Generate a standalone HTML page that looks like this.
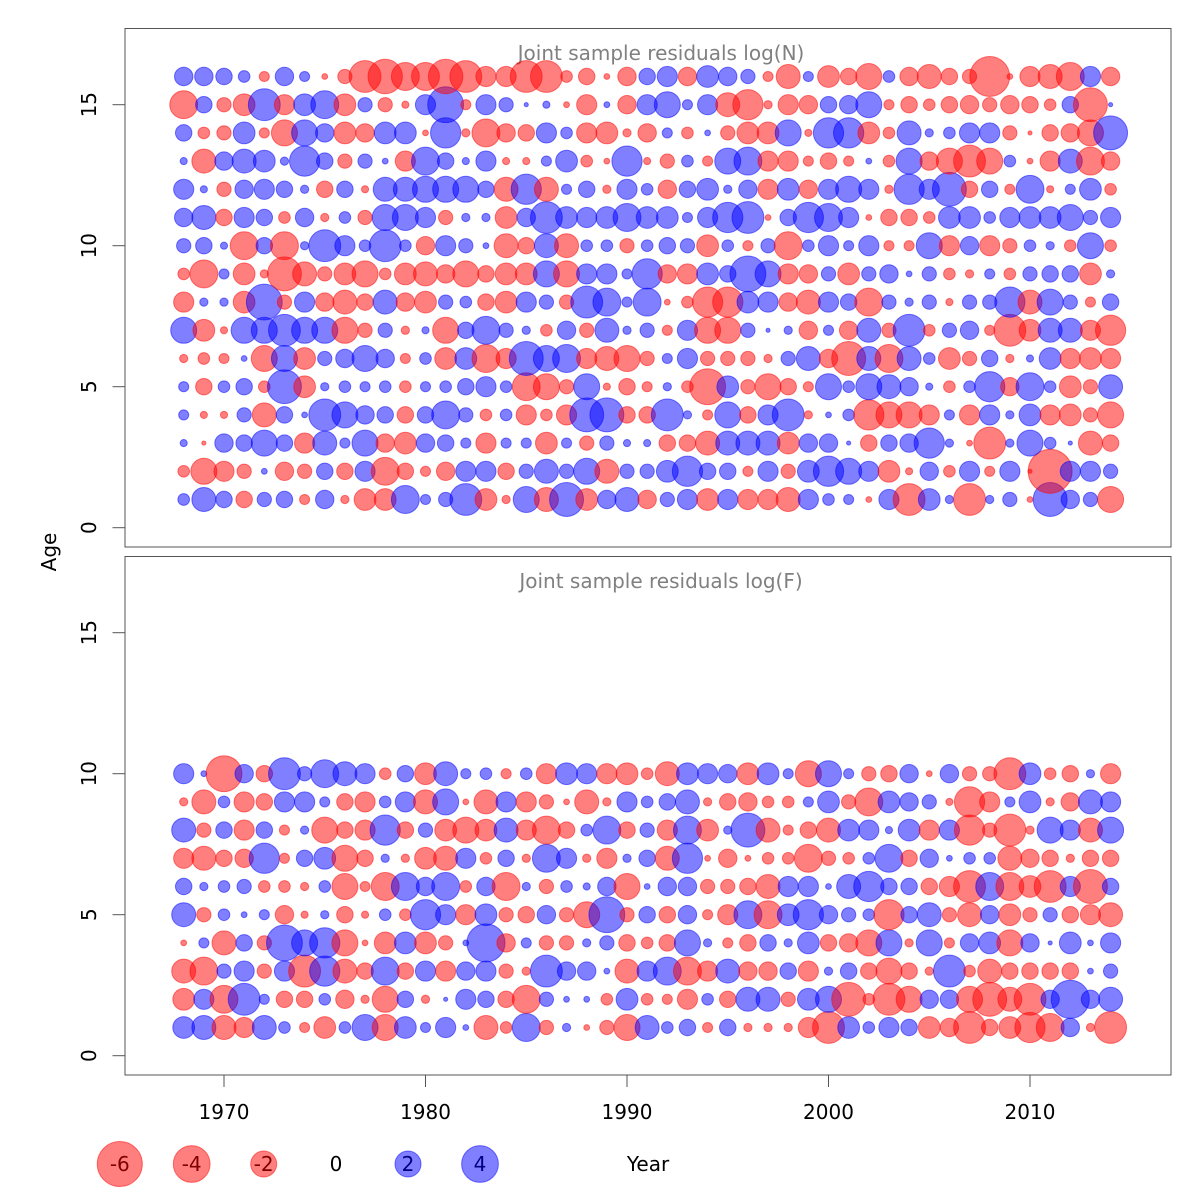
<!DOCTYPE html>
<html><head><meta charset="utf-8"><title>Joint sample residuals</title>
<style>
html,body{margin:0;padding:0;background:#fff;}
svg{display:block;font-family:"DejaVu Sans","Liberation Sans",sans-serif;}
</style></head>
<body>
<svg id="chart" width="1200" height="1200" viewBox="0 0 1200 1200" xmlns="http://www.w3.org/2000/svg">
  <rect x="125" y="28.5" width="1046" height="518.5" fill="none" stroke="#555" stroke-width="1"/>
  <rect x="125" y="556.5" width="1046" height="518.5" fill="none" stroke="#555" stroke-width="1"/>
  <text x="661" y="60" font-size="20" fill="#808080" text-anchor="middle">Joint sample residuals log(N)</text>
  <text x="661" y="588" font-size="20" fill="#808080" text-anchor="middle">Joint sample residuals log(F)</text>
  <text x="0" y="0" font-size="20" fill="#000" text-anchor="middle" transform="translate(56,552) rotate(-90)">Age</text>
  <text x="648" y="1171" font-size="20" fill="#000" text-anchor="middle">Year</text>
  <g id="axes"></g>
  <g id="bubblesN"></g>
  <g id="bubblesF"></g>
  <g id="legend"></g>
</svg>
<script>
const years = [];
for (let y = 1968; y <= 2014; y++) years.push(y);
const xTicks = [1970, 1980, 1990, 2000, 2010];
const yTicks = [0, 5, 10, 15];
const legendValues = [-6, -4, -2, 0, 2, 4];

const logN_age1 = [0.4,1.7,0.8,-0.8,0.6,0.8,-0.3,1,-0.2,-1.4,-1.4,2.3,0.3,0.6,3,-1.4,-0.2,2,-1.7,3.4,-1.4,1,1.7,-1, 0.6,1.2,-1.4,1.2,-1.2,-1.2,-1.7,1.2,0.4,0.3,-0.1,1.2,-3,1.4,0.2,-3,0.2,0.6,-0.1,3.4,1,0.6,-2];
const logN_age2 = [-0.4,-2,-1.2,-0.6,0.1,-1,-0.6,0.8,-0.8,1.2,-2.3,-0.8,-0.3,-1,1.2,1.2,-0.8,0.6,1.7,0.6,2,-1.7,0.6,0.6, 1.4,2.7,0.8,0.8,-0.3,1.2,-0.6,1.4,2.7,2,1.2,-1.4,-0.15,1,-0.4,1.2,-0.3,1.2,-0.05,-5.7,1.2,1.2,0.6];
const logN_age3 = [0.15,-0.05,1,0.8,2,0.8,-1.2,1.7,0.3,2,-1,-1.4,1,0.8,0.3,-1.2,0.3,0.3,-1.4,0.3,-0.6,0.6,0.15,0.15, -0.8,-0.8,-1.7,1.7,1.7,1.7,-1.4,1,1,0.05,-0.8,0.8,1,2.7,0.2,-0.1,-3,0.2,2,0.4,0.05,-1.7,-0.8];
const logN_age4 = [0.3,-0.15,-0.15,0.6,-1.7,0.8,0.1,3,2,1,0.8,-0.8,0.8,2.3,0.6,-0.4,0.4,-1.2,-0.4,-1.2,3.4,3.4,-0.8,-0.8, 3,0.2,-0.3,2,-0.8,1.2,3,-0.2,0.1,0.4,-2.7,-2,-2,-1.2,0.3,-1.2,1.2,0.2,1.4,-1.2,-1.4,-0.6,-2];
const logN_age5 = [0.3,-0.8,0.4,0.8,-0.4,3.4,-1.4,0.2,0.4,0.3,0.4,-0.4,0.3,0.4,0.8,1.2,0.4,-2.3,-2,-0.6,2,-0.15,-0.8,-0.3, 0.2,-0.4,-3.8,1.4,-0.6,-2,-0.8,-0.3,2,0.4,2,1.7,1,0.15,-0.4,0.4,2.7,-1,2.3,0.4,-1.4,-0.6,1.7];
const logN_age6 = [-0.2,-0.4,-0.3,0.1,-2,2,-1.4,0.6,1,2,1,-0.3,0.4,-1.4,1.4,-2.3,-1.2,3.4,2,2.3,-1.2,-1.7,-2,-0.6, 0.3,1.2,-0.6,-0.6,-0.6,-0.2,0.6,1.7,-1,-3.4,1.7,-2.3,1.7,0.4,-1.4,-0.6,0.8,-0.2,0.15,1.4,-1.2,-1.4,-1.2];
const logN_age7 = [2,-1.4,-0.15,2,2,3,2,2,-2,-0.6,0.6,-0.2,0.15,-2,0.8,2.3,0.6,0.2,-0.4,1,-0.6,1.7,0.2,0.6, -0.3,1.2,-2,-2,0.6,0.05,0.2,-1,0.3,-1,1.7,-0.6,3,-0.4,0.6,1,-0.3,-3,-1.4,1.7,1.7,-1.2,-2.7];
const logN_age8 = [-1.2,0.2,0.2,-1.4,3.8,-0.6,1.2,-1,-1.7,-0.8,1.7,-1,-1.4,0.6,0.4,-0.8,-1.4,1.2,0.6,-0.6,3,2.3,0.3,2.3, -0.1,-0.4,-2.7,-2.7,1.4,1.2,-1,-1.7,1.2,0.8,-2.3,0.6,0.2,0.6,-0.15,0.6,0.6,2.7,-1.7,2,0.6,-0.3,0.8];
const logN_age9 = [-0.4,-2.3,0.3,-1.4,-0.2,-3.4,-1.7,-0.6,-1.4,-2,-0.4,-1.4,-1.7,-1,-2,-0.8,-1.4,-1.4,2,-2,1.2,1.2,0.3,2.7, -1,-1.2,1.4,0.8,3.8,2,-1.2,-1,0.6,-1.4,0.6,1,0.1,0.6,-0.4,-0.2,0.3,-0.4,0.6,0.8,0.8,-1.4,0.2];
const logN_age10 = [0.6,0.8,0.15,-2.3,0.8,-2.3,0.2,3,1.2,0.4,3,0.4,-1,1.2,0.6,0.1,-1.7,-0.8,1.7,-1.7,0.4,0.4,-0.6,0.4, 0.8,0.6,-1.4,0.4,-0.3,0.6,-2.3,0.4,1.2,0.3,1.2,-0.3,-0.3,2,-1.2,1,-1.2,-0.6,0.4,0.2,-0.4,2,-0.4];
const logN_age11 = [1,1.7,-0.8,1.2,0.8,-0.4,1,-0.2,0.4,-0.6,2,2,1.2,-0.6,0.2,0.2,-1.4,1,3,1.4,1.2,1.4,2.3,1.4, 1.4,0.3,1.2,2.7,3,-0.1,0.8,2.7,2.3,1.2,-0.1,-0.8,-0.8,-0.4,1.4,1.4,0.4,1.2,1.4,1.4,2,0.6,1.2];
const logN_age12 = [1.2,0.15,-0.6,1,1.2,0.8,0.2,-0.8,0.8,-0.15,1.7,1.7,2,2,2,0.8,-1.7,2.7,-1.7,0.3,0.8,-0.2,1.2,0.4, -1,0.8,1.4,0.2,1,-1.2,1.4,-1,1.2,2,1.2,-0.2,2.7,1.2,3.4,-0.8,0.8,-0.3,2.3,-0.15,0.3,1.4,-0.4];
const logN_age13 = [0.15,-1.7,1,1.7,1.4,0.2,2.7,0.8,-0.6,0.6,0.1,-1.2,2.3,0.8,0.15,1.2,-0.15,-0.15,0.3,1.4,-0.4,-0.1,2.7,-0.15, -0.6,0.4,-0.3,2,2.3,-1.2,-1.2,-0.3,-0.8,-0.3,0.1,-0.4,2,-1,-2,-3,-2,0.4,-0.1,-1.2,1.7,-2.3,-1];
const logN_age14 = [0.8,-0.4,-0.6,1.4,-0.3,-2,2,1,-1.4,-1,1.4,1.4,-0.1,2.7,-0.2,-2.3,-1,-0.8,1.2,0.4,-1.2,-1.4,-0.2,-1, 0.3,-0.4,0.1,-0.6,-1.4,-1.4,2,-0.15,2.7,2.7,-1.4,-0.4,1.7,0.2,0.4,1.2,1.2,-0.6,-0.05,-0.8,-1,-2,3.4];
const logN_age15 = [-2.3,0.8,-0.6,-1.4,3,-1.2,1.4,2.3,-1.4,0.6,-0.6,-0.15,1.2,3.8,-0.3,1.2,0.6,0.05,0.15,-0.1,-1.2,0.1,-1,1.2, 2,0.3,1.2,-1.7,-2.7,-0.2,-1.2,-1,0.8,1,2,-0.3,-0.8,-0.4,-0.8,-1,-0.6,-1,-0.8,-0.4,0.8,-3.4,0.05];
const logN_age16 = [1,1,0.8,0.4,-0.3,1,0.3,-0.1,-0.6,-3,-3.5,-2.3,-2.3,-3.5,-3,-1.2,-1.2,-3,-3,-0.4,-0.8,-0.1,-1,0.8, 1.2,-1,1.4,1,0.6,-0.3,-1.7,0.3,-1.4,-0.8,-2,0.4,-1,-1.7,-0.8,-0.6,-4.7,-0.1,-1.2,-1.7,-2.3,1.2,-1];

const logF_age1 = [1.4,1.7,-1.7,-1.2,1.7,0.4,-0.3,-1.4,0.4,2,-2,1.4,0.3,1.2,0.1,-1.7,-0.4,2.3,-0.6,0.2,-0.1,-0.6,-2,1.7, 0.4,0.8,-0.3,0.8,-0.2,-0.2,-0.2,-1.2,-3,1.4,0.4,1.2,0.8,-1.4,-1,-3,-0.8,-1.4,-2.7,-2.3,1,-0.2,-3];
const logF_age2 = [-1.4,1.2,-2.3,3,0.3,-0.8,-0.8,0.4,-1,-0.2,-2,0.8,-0.2,0.05,1.2,0.8,-0.8,-2.3,0.6,0.1,0.1,-0.4,1.4,-0.4, -0.3,-1.2,0.4,-0.8,1.7,1.7,-0.6,1.4,2,-3.4,-0.4,-3,-2,1,1,-2,-3.4,-1.7,-3,1,4.3,1,1.7];
const logF_age3 = [-1.7,-2.3,0.6,1.2,-0.6,1.2,-3,2.7,-1.7,-0.8,2.3,-0.8,1.2,-1.2,1,1.2,-0.6,-0.2,3,1,1,0.1,-1.7,1.2, 2.3,-2.3,-1.2,1.7,-1,-1,0.8,-1.2,0.2,0.8,-0.8,-2,-0.8,-0.2,3,-0.4,-1.7,-0.8,-0.8,-0.8,-0.8,0.1,0.6];
const logF_age4 = [-0.1,0.3,-1.7,0.8,-0.6,3.8,2,2.7,-2,-0.1,-1.4,1.4,-1.4,-0.6,0.1,4.3,-1,0.3,-0.6,-0.6,0.2,0.6,-0.8,-0.4, -0.8,2,0.2,-0.3,-0.8,0.8,0.2,1.4,-0.8,-1,-2,2,-0.2,2,-0.3,1,1.4,-2,1,0.05,1.4,0.1,1.2];
const logF_age5 = [1.7,-0.6,0.4,0.1,0.3,-1,-0.15,0.2,-0.8,-0.15,0.4,-0.4,2.7,1.2,-1.2,1.4,-0.6,-0.8,1,-0.6,-2,3.8,-0.6,0.8, -0.8,1,-0.3,-1.2,2.3,-2.3,1.4,2.7,1,0.6,0.4,-2.7,0.8,1.7,-0.6,-1.7,1,-1.4,-0.6,0.6,-0.8,-1.2,-1.7];
const logF_age6 = [0.8,0.2,0.4,0.6,-0.4,-0.4,-0.2,0.4,-2,-0.3,-2.3,2.3,1,2.3,-0.4,1,-2.3,0.2,-0.6,0.4,0.15,1,-2,0.1, 1,1,-0.6,-0.6,-0.8,-1.7,1.2,1.2,0.1,1.7,2.7,0.8,0.8,-0.8,-1.2,-3,2.3,-2.3,-1.4,-3,1.2,-3.4,0.8];
const logF_age7 = [-1.2,-1.7,-0.8,-1,2.7,-0.3,0.8,1.4,-2,-0.8,0.2,-0.2,-1.4,-1.7,1.2,-0.4,0.8,-0.2,2.3,1.2,-0.2,-1.2,0.2,0.8, -1.7,2.7,-0.1,-1,-0.1,-0.4,-0.4,-2.3,-0.6,-0.4,0.4,2.3,-0.8,1,0.1,0.4,0.4,-1.7,-1,-0.8,-0.2,-0.8,-0.8];
const logF_age8 = [1.7,-0.6,0.8,-1.2,0.8,-0.3,0.2,-2,-0.8,-1.2,2.7,-0.8,0.6,-1.4,-2,-1.4,1.7,-1.2,-2.3,-0.8,0.4,2.3,-0.8,0.6, -1.2,2.3,-1.4,0.2,3.4,-1.7,-0.3,-0.8,-1.7,1.4,1.2,0.15,1.4,-1.2,1.2,-2.7,-0.6,-3,-0.2,2,1.2,-1.7,2];
const logF_age9 = [-0.2,-1.7,0.4,-1.2,-0.8,1.2,1.2,0.3,-0.8,-1.2,0.4,1.2,-1.7,2,-0.1,-1.7,1.2,-1.2,-0.6,-0.1,-1.7,-0.2,1.2,0.4, 0.8,1.7,-0.2,-0.8,-1,-0.4,-0.4,0.3,1.4,-0.6,-2.3,1.4,1,0.6,-0.15,-2.7,-1.2,0.3,1.4,-0.2,-1,1.7,1.2];
const logF_age10 = [1.2,0.1,-3.8,1,-0.8,3,0.6,2.3,1.7,1.2,-0.4,0.8,-1.4,1.7,0.3,0.4,-0.3,0.4,-1.2,1.4,1.2,-1.2,-1.4,-0.4, -1.7,1.4,1.2,1,-1.4,1.4,0.3,-2,2,0.3,-0.6,-0.8,1,-0.1,1,-0.6,-0.6,-3,1.4,-0.4,-0.8,0.2,-1.2];

const logN = [logN_age1,logN_age2,logN_age3,logN_age4,logN_age5,logN_age6,logN_age7,logN_age8,logN_age9,logN_age10,logN_age11,logN_age12,logN_age13,logN_age14,logN_age15,logN_age16];
const logF = [logF_age1,logF_age2,logF_age3,logF_age4,logF_age5,logF_age6,logF_age7,logF_age8,logF_age9,logF_age10];

const NS = "http://www.w3.org/2000/svg";
function xScale(year){ return 183.7 + (year - 1968) * 20.15; }
function yTop(age){ return 527.7 - age * 28.2; }
function yBot(age){ return 1055.7 - age * 28.2; }
function rScale(v){ return 9.2 * Math.sqrt(Math.abs(v)); }
const RED_FILL = "rgba(255,0,0,0.5)", BLUE_FILL = "rgba(0,0,255,0.5)";

function mk(tag, attrs, parent){
  const el = document.createElementNS(NS, tag);
  for (const k in attrs) el.setAttribute(k, attrs[k]);
  parent.appendChild(el);
  return el;
}

const axes = document.getElementById('axes');
[yTop, yBot].forEach((ys, p) => {
  yTicks.forEach(t => {
    const ln = mk('line', {x1:112.5, x2:125, y1:ys(t), y2:ys(t), stroke:'#555', 'stroke-width':1}, axes);
    
    
    const tx = mk('text', {x:0, y:0, 'font-size':20, 'text-anchor':'middle', fill:'#000', transform:'translate(96,' + ys(t) + ') rotate(-90)'}, axes);
    tx.textContent = t;
    
    
  });
});
xTicks.forEach(t => {
  const ln = mk('line', {x1:xScale(t), x2:xScale(t), y1:1075, y2:1087, stroke:'#555', 'stroke-width':1}, axes);
  
  
  const tx = mk('text', {x:xScale(t), y:1119, 'font-size':20, 'text-anchor':'middle', fill:'#000'}, axes);
  tx.textContent = t;
  
  
});

function drawPanel(rows, ys, g){
  rows.forEach((row, ai) => {
    const age = ai + 1;
    row.forEach((v, yi) => {
      if (!v) return;
      const col = v < 0 ? RED_FILL : BLUE_FILL;
      const c = mk('circle', {cx:xScale(years[yi]), cy:ys(age), r:rScale(v), fill:col, stroke:col, 'stroke-width':1}, g);
      
      
    });
  });
}
drawPanel(logN, yTop, document.getElementById('bubblesN'));
drawPanel(logF, yBot, document.getElementById('bubblesF'));

const lg = document.getElementById('legend');
const legendX = [119.8, 191.7, 263.7, 336, 408, 480];
legendValues.forEach((v, i) => {
  if (v !== 0) {
    const col = v < 0 ? RED_FILL : BLUE_FILL;
    const c = mk('circle', {cx:legendX[i], cy:1164, r:rScale(v), fill:col, stroke:col, 'stroke-width':1}, lg);
    
    
  }
  const tx = mk('text', {x:legendX[i], y:1171, 'font-size':20, 'text-anchor':'middle', fill: v < 0 ? '#800000' : (v > 0 ? '#000080' : '#000')}, lg);
  tx.textContent = v;
  
  
});
</script>
</body></html>
